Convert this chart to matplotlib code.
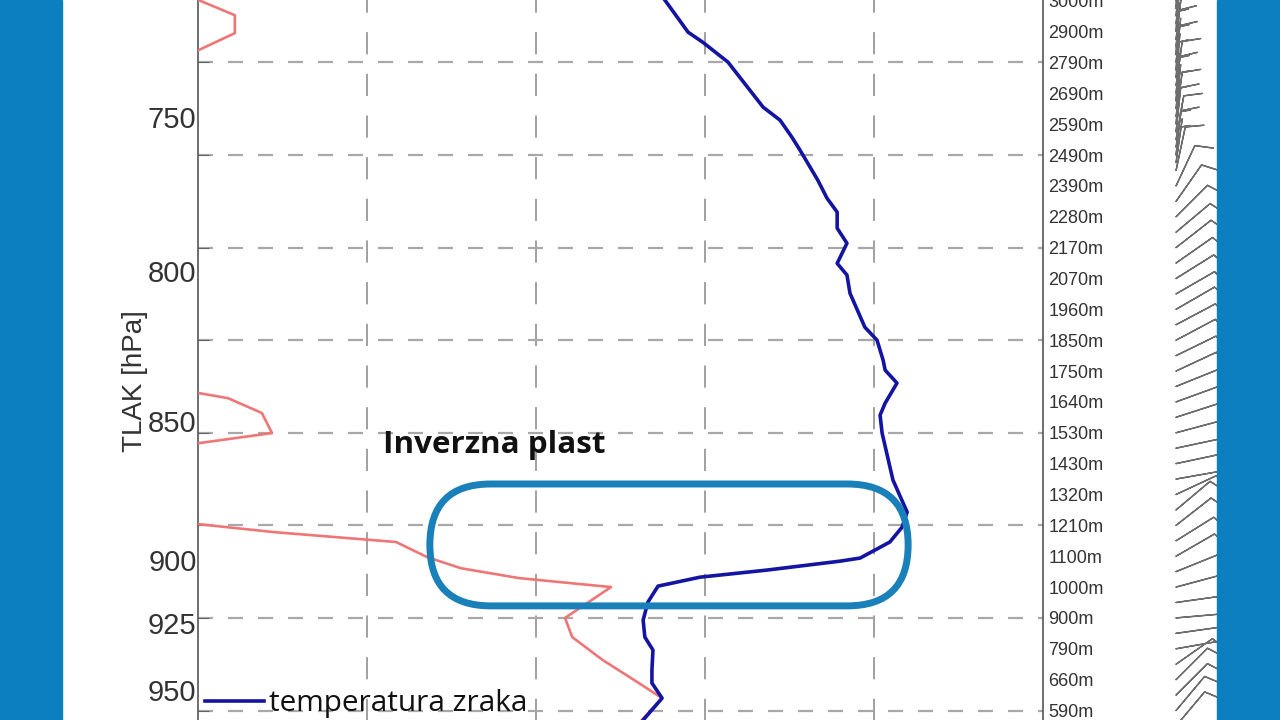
import numpy as np
import matplotlib
matplotlib.use("Agg")
import matplotlib.pyplot as plt
from matplotlib.patches import Rectangle, FancyBboxPatch

plt.rcParams["lines.scale_dashes"] = False
plt.rcParams["font.family"] = ["Liberation Sans", "DejaVu Sans"]

# y axis runs over model levels, one height label per level
height_labels = ["590m", "660m", "790m", "900m", "1000m", "1100m", "1210m", "1320m",
                 "1430m", "1530m", "1640m", "1750m", "1850m", "1960m", "2070m", "2170m",
                 "2280m", "2390m", "2490m", "2590m", "2690m", "2790m", "2900m", "3000m"]
grid_levels = [0, 3, 6, 9, 12, 15, 18, 21]

pressure_labels = [750, 800, 850, 900, 925, 950]
pressure_levels = [19.23, 14.25, 9.38, 4.88, 2.84, 0.66]

temp_grid = [-15, -10, -5, 0]

# air temperature profile (deg C vs level)
temp_t = [-6.57, -6.18, -5.50, -5.06, -4.32, -3.28, -2.78, -2.43, -2.19, -1.66, -1.39,
          -1.09, -1.09, -0.80, -1.09, -0.80, -0.71, -0.27, 0.09, 0.27, 0.33, 0.68, 0.33,
          0.18, 0.24, 0.56, 0.98, 0.83, 0.47, -0.41, -1.00, -3.17, -5.15, -6.39, -6.69,
          -6.83, -6.78, -6.54, -6.57, -6.57, -6.27, -6.83, -7.20]
temp_lev = [23.60, 23.01, 21.98, 21.65, 21.01, 19.55, 19.13, 18.58, 18.16, 17.18, 16.60,
            16.15, 15.63, 15.14, 14.49, 14.11, 13.52, 12.42, 12.00, 11.35, 11.03, 10.61, 9.96,
            9.57, 8.99, 7.47, 6.43, 5.94, 5.46, 4.94, 4.84, 4.55, 4.32, 4.03, 3.51,
            2.93, 2.38, 1.96, 1.31, 0.89, 0.40, -0.31, -0.80]

# red profile
dew_t = [-20.68, -18.91, -18.91, -20.0, -20.83, -21.4, -20.83, -19.11, -18.11, -17.81,
         -20.0, -20.83, -21.42, -20.83, -20.0, -17.75, -14.14, -13.22, -12.22, -10.50,
         -7.78, -9.14, -8.93, -8.02, -7.10, -6.27, -6.92]
dew_lev = [23.34, 22.53, 21.95, 21.39, 21.01, 13.30, 10.45, 10.12, 9.64, 8.99,
           8.66, 8.44, 6.82, 6.14, 6.04, 5.78, 5.46, 4.97, 4.61, 4.29,
           4.00, 3.00, 2.38, 1.63, 0.99, 0.40, -0.37]

# wind barbs (level, direction from in deg, speed in kt)
wind_lev = [-0.5, 0, 0.5, 1, 1.5, 2, 2.5, 3, 3.5, 4, 4.5, 5, 5.5, 6, 6.5, 7, 7.5, 8,
            8.5, 9, 9.5, 10, 10.5, 11, 11.5, 12, 12.5, 13, 13.5, 14, 14.5, 15, 15.5,
            16, 16.5, 17,
            17.5, 17.75, 18, 18.25, 18.5, 18.75, 19, 19.25, 19.5, 19.75, 20, 20.25,
            20.5, 20.75, 21, 21.25, 21.5, 21.75, 22, 22.25, 22.5, 22.75, 23, 23.25, 23.5]
wind_dir = [40, 40, 45, 45, 55, 80, 82, 85, 82, 75, 68, 60, 58, 52, 50, 65, 80, 78,
            78, 75, 72, 70, 68, 65, 64, 62, 62, 60, 60, 58, 55, 52, 50,
            45, 35, 25,
            12, 8, 6, 8, 10, 6, 5, 8, 6, 4, 6, 8,
            5, 4, 6, 3, 5, 7, 4, 6, 5, 3, 6, 4, 5]
wind_spd = [10, 10, 10, 10, 10, 10, 10, 10, 10, 10, 10, 10, 10, 10, 10, 10, 10, 10,
            10, 10, 10, 10, 10, 10, 10, 10, 10, 10, 10, 10, 10, 10, 10,
            10, 10, 10,
            10, 5, 10, 5, 10, 10, 5, 10, 5, 10, 5, 10,
            5, 10, 5, 10, 5, 10, 5, 10, 5, 10, 5, 10, 5]

inversion_t = (-13.14, 1.01)
inversion_lev = (3.39, 7.34)

band = "#0b7fbf"
ylim = (-1, 24)
ax_bottom, ax_height = -0.02967, 1.07153

fig = plt.figure(figsize=(12.8, 7.2), dpi=100, facecolor="white")
ax = fig.add_axes([198 / 1280, ax_bottom, 845 / 1280, ax_height])
ax2 = ax.twinx()

ax.plot(dew_t, dew_lev, color="#ef7676", lw=1.9, zorder=3)
ax.plot(temp_t, temp_lev, color="#1414a2", lw=2.6, zorder=4, label="temperatura zraka")
ax.set_xlim(-20, 5)
ax.set_ylim(*ylim)

ax.set_xticks(temp_grid)
ax.tick_params(axis="x", length=0, labelbottom=False)
ax.xaxis.grid(True, color="#a0a0a0", lw=1.4, linestyle=(0, (16, 14)))

ax.set_yticks(pressure_levels)
ax.set_yticklabels([str(p) for p in pressure_labels], fontsize=21, color="#333333")
ax.set_yticks(grid_levels, minor=True)
ax.tick_params(axis="y", which="major", length=0, pad=1)
ax.tick_params(axis="y", which="minor", direction="in", length=8, color="#555555")
ax.yaxis.grid(True, which="minor", color="#a8a8a8", lw=1.6, linestyle=(0, (10.8, 10.8)))
ax.yaxis.grid(False, which="major")
ax.set_ylabel("TLAK [hPa]", fontsize=20, color="#333333")
ax.yaxis.set_label_coords(-0.0592, 0.467)
for s in ["top", "bottom", "right"]:
    ax.spines[s].set_visible(False)
ax.spines["left"].set_color("#555555")
ax.spines["left"].set_linewidth(1.2)

ax2.set_ylim(*ylim)
ax2.set_yticks(range(len(height_labels)))
ax2.set_yticklabels(height_labels, fontsize=13, color="#333333")
ax2.set_yticks(grid_levels, minor=True)
ax2.tick_params(axis="y", which="major", length=0, pad=4)
ax2.tick_params(axis="y", which="minor", direction="in", length=15, color="#555555")
for s in ["top", "bottom", "left"]:
    ax2.spines[s].set_visible(False)
ax2.spines["right"].set_color("#555555")
ax2.spines["right"].set_linewidth(1.2)

# wind barbs column
axb = fig.add_axes([1100 / 1280, ax_bottom, 117 / 1280, ax_height])
axb.set_xlim(0, 1)
axb.set_ylim(*ylim)
axb.axis("off")
d = np.radians(wind_dir)
u = -np.array(wind_spd) * np.sin(d)
v = -np.array(wind_spd) * np.cos(d)
axb.barbs(np.full(len(wind_lev), 0.65), wind_lev, u, v, length=8,
          color="#6e6e6e", linewidth=1.0, clip_on=False)

# inversion layer outline
x0, y0 = ax.transData.transform((inversion_t[0], inversion_lev[0])) / fig.dpi
x1, y1 = ax.transData.transform((inversion_t[1], inversion_lev[1])) / fig.dpi
h = y1 - y0
box = FancyBboxPatch((x0, y0), x1 - x0, h, boxstyle=f"round,pad=0,rounding_size={h / 2}",
                     transform=fig.dpi_scale_trans, fill=False, ec="#1a80ba", lw=5, zorder=6)
fig.add_artist(box)

ax.text(-14.53, 8.34, "Inverzna plast", family="Open Sans", fontweight="bold",
        fontsize=22.6, color="#111111", ha="left", va="baseline", zorder=6)

ax.legend(loc="center left", bbox_to_anchor=(205 / 1280, 16 / 720),
          bbox_transform=fig.transFigure, frameon=False,
          prop={"family": "Open Sans", "size": 21.4}, labelcolor="#111111",
          handlelength=2.0, handletextpad=0.17, borderpad=0, borderaxespad=0)

# blue frame on both sides
fig.add_artist(Rectangle((0, 0), 62 / 1280, 1, transform=fig.transFigure, color=band, zorder=10))
fig.add_artist(Rectangle((1217 / 1280, 0), 63 / 1280, 1, transform=fig.transFigure, color=band, zorder=10))

fig.savefig("out.png", dpi=100)
plt.close(fig)
